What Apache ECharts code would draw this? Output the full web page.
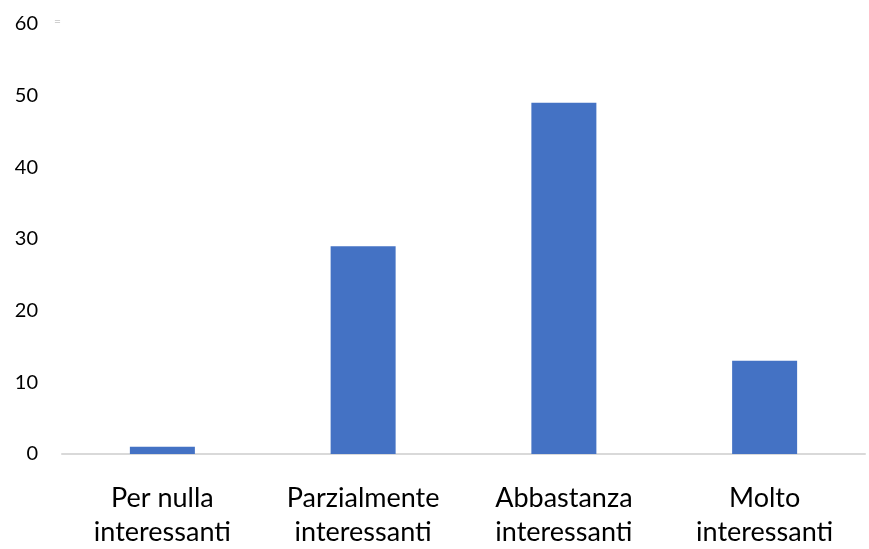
<!DOCTYPE html>
<html><head><meta charset="utf-8">
<script src="https://cdn.jsdelivr.net/npm/echarts@6/dist/echarts.min.js"></script>
<style>html,body{margin:0;padding:0;background:#fff;overflow:hidden}#c{width:869px;height:549px}</style>
</head><body><div id="c"></div>
<script>
const categories = ["Per nulla\ninteressanti", "Parzialmente\ninteressanti", "Abbastanza\ninteressanti", "Molto\ninteressanti"];
const values = [1, 29, 49, 13];
const yTicks = [0, 10, 20, 30, 40, 50, 60];

const chart = echarts.init(document.getElementById('c'), null, {renderer: 'canvas'});
chart.setOption({
  animation: false,
  backgroundColor: '#fff',
  grid: {left: 62, right: 4, top: 24, height: 438, containLabel: false},
  graphic: [
    {type: 'text', left: 54, top: 15, style: {text: '=', fontFamily: 'Lato', fontSize: 12, fill: '#d0d0d0'}}
  ],
  xAxis: {
    type: 'category', data: categories,
    axisLine: {show: true, lineStyle: {color: '#d9d9d9', width: 2}},
    axisTick: {show: false},
    axisLabel: {fontFamily: 'Lato', fontSize: 27, color: '#000', lineHeight: 34, margin: 27, interval: 0}
  },
  yAxis: {
    type: 'value', min: yTicks[0], max: yTicks[yTicks.length - 1], interval: 10,
    splitLine: {show: false},
    axisLine: {show: false}, axisTick: {show: false},
    axisLabel: {fontFamily: 'Lato', fontSize: 20, color: '#000', margin: 24}
  },
  series: [{
    type: 'bar', data: values, barWidth: 65,
    itemStyle: {color: '#4472C4'}
  }]
});
</script></body></html>
